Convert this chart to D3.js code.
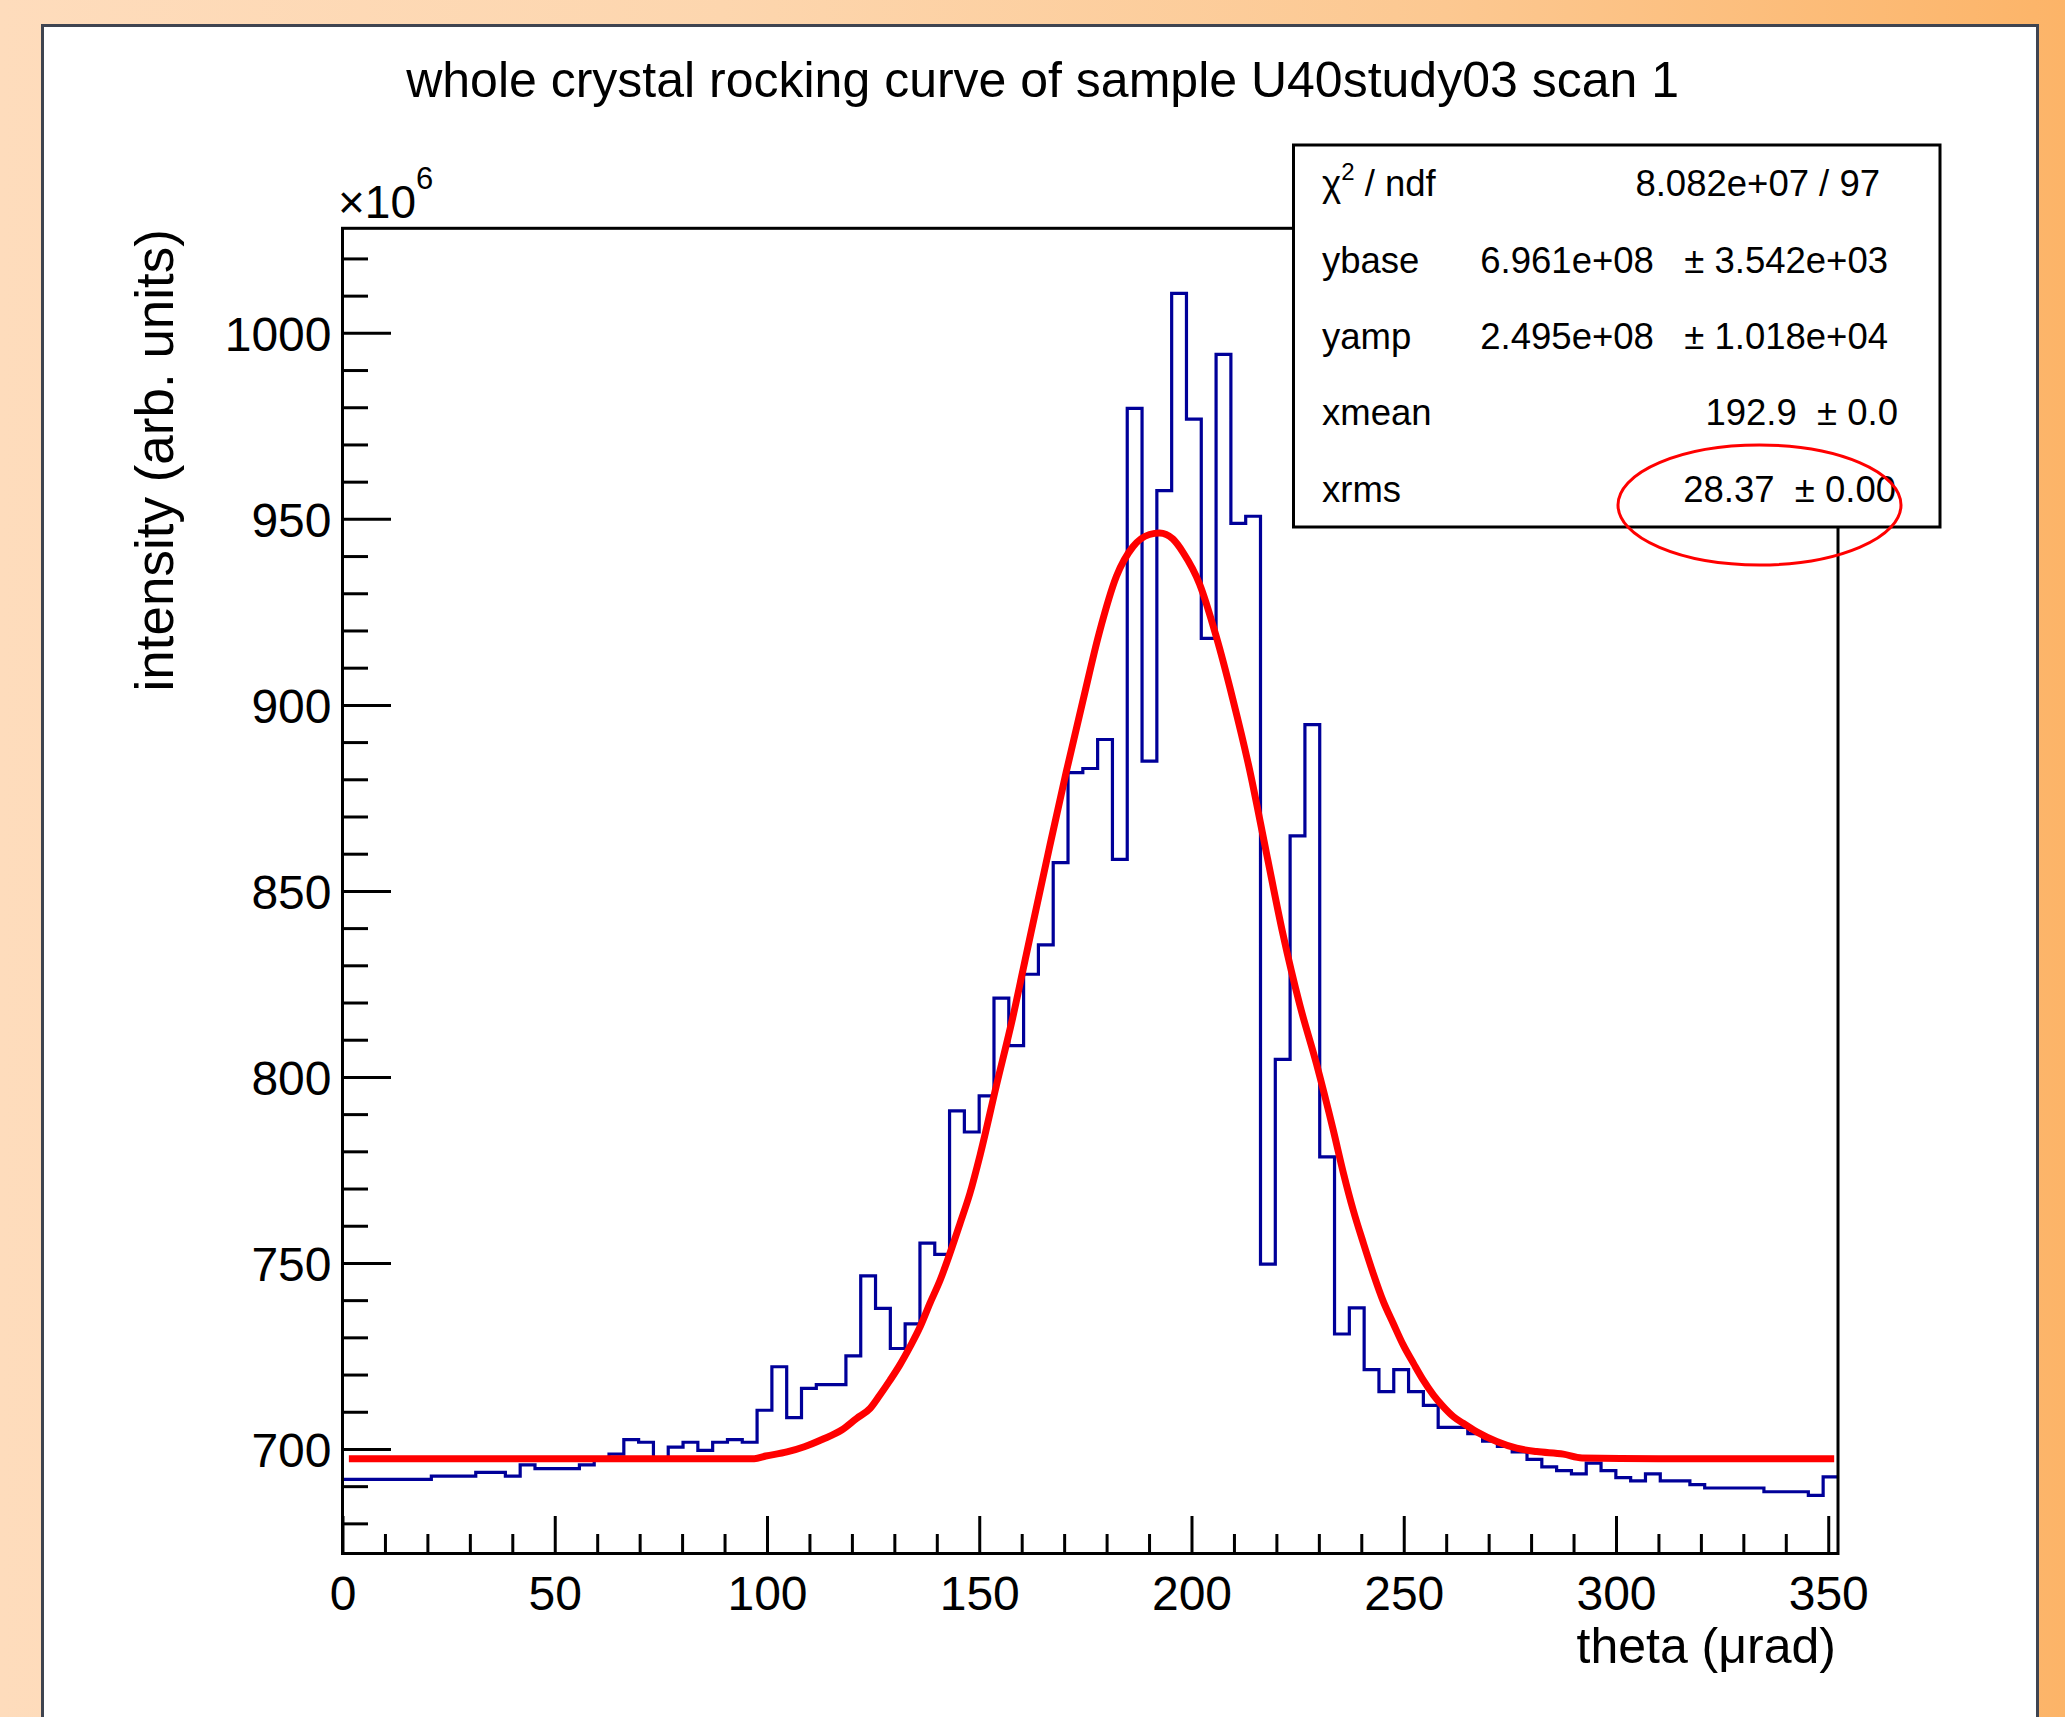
<!DOCTYPE html>
<html><head><meta charset="utf-8">
<script src="https://cdn.jsdelivr.net/npm/d3@7"></script>
<style>
html,body{margin:0;padding:0;background:#fff;}
svg{display:block;}
text{font-family:"Liberation Sans", Arial, Helvetica, sans-serif; fill:#000;}
</style>
</head><body>
<div id="chart"></div>
<script>
// ---------------- data ----------------
const titleText = "whole crystal rocking curve of sample U40study03 scan 1";
const xAxisTitle = "theta (μrad)";
const yAxisTitle = "intensity (arb. units)";
const yExponent = "6";
const xTickValues = [0, 50, 100, 150, 200, 250, 300, 350];
const yTickValues = [700, 750, 800, 850, 900, 950, 1000];
const xDomain = [0, 352.3];
const yDomain = [671.9, 1028.1];

// histogram: 101 bins, values in units of 1e6
const histLow = 0;
const histBinWidth = 3.488;
const histCounts = [
  691.8, 691.8, 691.8, 691.8, 691.8, 691.8, 692.7, 692.7, 692.7, 693.7,
  693.7, 692.7, 695.7, 694.7, 694.7, 694.7, 695.7, 697.0, 698.6, 702.5,
  701.8, 697.3, 700.5, 701.8, 699.6, 701.8, 702.5, 701.8, 710.4, 722.1,
  708.4, 716.3, 717.3, 717.3, 725.0, 746.5, 737.8, 727.0, 733.6, 755.3,
  752.3, 790.9, 785.2, 794.9, 821.2, 808.4, 827.6, 835.5, 857.6, 881.8,
  882.9, 890.7, 858.5, 979.7, 884.9, 957.6, 1010.6, 976.8, 917.9, 994.2,
  948.8, 950.7, 749.7, 804.7, 864.8, 894.7, 778.5, 730.9, 737.9, 721.3,
  715.4, 721.3, 715.4, 711.7, 705.8, 705.8, 704.1, 702.1, 700.7, 699.2,
  697.2, 695.2, 694.2, 693.3, 696.2, 694.2, 692.3, 691.4, 693.3, 691.4,
  691.4, 690.4, 689.5, 689.5, 689.5, 689.5, 688.5, 688.5, 688.5, 687.5,
  692.5
];

// fitted curve (x in μrad, y in 1e6)
const fitX = [1.5, 20, 40, 60, 80, 97, 99.7, 104.7, 108.8, 113.1, 117.6, 121.1, 124.3, 126.6,
  129.0, 131.3, 133.7, 136.1, 138.4, 140.8, 143.1, 145.5, 147.8, 150.2, 154.0, 157.9, 161.1,
  166.6, 170.5, 174.4, 178.3, 182.3, 186.2, 190.1, 192.5, 195.6, 198.0, 201.9, 205.8, 209.7,
  213.7, 217.6, 221.5, 225.5, 229.4, 233.4, 235.8, 238.1, 240.5, 242.8, 245.2, 247.5, 249.9,
  252.3, 254.6, 257.0, 259.3, 261.7, 264.0, 267.2, 271.9, 276.6, 281.3, 287.6, 292.0, 310,
  330, 351.4];
const fitY = [697.4, 697.4, 697.4, 697.4, 697.4, 697.4, 698.1, 699.2, 700.6, 702.6, 705.1, 708.2, 710.9, 714.5,
  718.5, 722.6, 727.5, 732.9, 739.2, 745.4, 752.6, 760.7, 768.7, 779.0, 797.5, 816.0, 833.0,
  862.0, 882.0, 901.0, 919.5, 934.5, 942.5, 945.8, 946.2, 944.6, 941.0, 932.5, 918.5, 901.7,
  882.5, 860.5, 838.6, 819.4, 803.7, 785.7, 774.1, 764.2, 755.3, 747.2, 739.6, 733.8, 727.9,
  723.0, 718.5, 714.5, 711.4, 708.7, 706.9, 704.6, 702.0, 700.2, 699.3, 698.6, 697.6, 697.4,
  697.4, 697.4];

const statNames = ["χ", "ybase", "yamp", "xmean", "xrms"];
const statValues = ["8.082e+07 / 97", "6.961e+08   ± 3.542e+03", "2.495e+08   ± 1.018e+04", "192.9  ± 0.0", "28.37  ± 0.00"];

// ---------------- layout ----------------
const W = 2065, H = 1717;
const plot = { left: 342.5, right: 1838, top: 228.3, bottom: 1553.5 };
const box = { x: 1293.5, y: 145, w: 646.5, h: 382 };
const statValueRight = [1880, 1888, 1888, 1898, 1896];

const svg = d3.select("#chart").append("svg")
  .attr("width", W).attr("height", H).attr("viewBox", `0 0 ${W} ${H}`);

const defs = svg.append("defs");
const grad = defs.append("linearGradient").attr("id", "bg").attr("x1", "0").attr("x2", "1").attr("y1", "0").attr("y2", "0");
[["0", "#fedcbc"], ["0.35", "#fdd6ae"], ["0.7", "#fcc891"], ["1", "#fcb468"]]
  .forEach(([o, c]) => grad.append("stop").attr("offset", o).attr("stop-color", c));
const clip = defs.append("clipPath").attr("id", "plotclip");
clip.append("rect").attr("x", plot.left).attr("y", plot.top)
  .attr("width", plot.right - plot.left).attr("height", plot.bottom - plot.top);

svg.append("rect").attr("width", W).attr("height", H).attr("fill", "url(#bg)");
svg.append("rect").attr("x", 42.5).attr("y", 25.5).attr("width", 1995).attr("height", H)
  .attr("fill", "#fff").attr("stroke", "#3f4450").attr("stroke-width", 3);

const x = d3.scaleLinear().domain(xDomain).range([plot.left, plot.right]);
const y = d3.scaleLinear().domain(yDomain).range([plot.bottom, plot.top]);

// title
svg.append("text").attr("x", 1042.6).attr("y", 96.7).attr("text-anchor", "middle")
  .attr("font-size", 50).text(titleText);

// minor/major ticks
const xMinor = d3.range(0, 351, 10).filter(v => !xTickValues.includes(v));
const yMinor = d3.range(680, 1021, 10).filter(v => !yTickValues.includes(v));

const gx = svg.append("g").attr("transform", `translate(0,${plot.bottom})`);
gx.call(d3.axisBottom(x).tickValues(xMinor).tickSizeInner(-19.5).tickSizeOuter(0).tickFormat(""));
gx.call(g => g.select(".domain").remove());
const gx2 = svg.append("g").attr("transform", `translate(0,${plot.bottom})`);
gx2.call(d3.axisBottom(x).tickValues(xTickValues).tickSizeInner(-37.5).tickSizeOuter(0).tickPadding(0).tickFormat(d3.format("d")));
gx2.call(g => g.select(".domain").remove());
gx2.selectAll("text").attr("y", 56.5).attr("dy", null).attr("font-size", 48)
  .attr("fill", "#000").style("font-family", '"Liberation Sans", Arial, sans-serif');

const gy = svg.append("g").attr("transform", `translate(${plot.left},0)`);
gy.call(d3.axisLeft(y).tickValues(yMinor).tickSizeInner(-25.5).tickSizeOuter(0).tickFormat(""));
gy.call(g => g.select(".domain").remove());
const gy2 = svg.append("g").attr("transform", `translate(${plot.left},0)`);
gy2.call(d3.axisLeft(y).tickValues(yTickValues).tickSizeInner(-48.5).tickSizeOuter(0).tickPadding(11).tickFormat(d3.format("d")));
gy2.call(g => g.select(".domain").remove());
gy2.selectAll("text").attr("dy", "0.36em").attr("font-size", 48)
  .attr("fill", "#000").style("font-family", '"Liberation Sans", Arial, sans-serif');

svg.selectAll(".tick line").attr("stroke", "#000").attr("stroke-width", 3);

// histogram (step outline)
const histPts = histCounts.map((v, i) => [histLow + i * histBinWidth, v]);
histPts.push([histLow + histCounts.length * histBinWidth, histCounts[histCounts.length - 1]]);
const histLine = d3.line().x(d => x(d[0])).y(d => y(d[1])).curve(d3.curveStepAfter);
svg.append("path").attr("d", histLine(histPts)).attr("fill", "none")
  .attr("stroke", "#000099").attr("stroke-width", 3.2).attr("clip-path", "url(#plotclip)");

// fit curve
const fitLine = d3.line().x(d => x(d[0])).y(d => y(d[1])).curve(d3.curveMonotoneX);
svg.append("path").attr("d", fitLine(fitX.map((v, i) => [v, fitY[i]]))).attr("fill", "none")
  .attr("stroke", "#ff0000").attr("stroke-width", 7).attr("clip-path", "url(#plotclip)");

// frame
svg.append("rect").attr("x", plot.left).attr("y", plot.top)
  .attr("width", plot.right - plot.left).attr("height", plot.bottom - plot.top)
  .attr("fill", "none").attr("stroke", "#000").attr("stroke-width", 3);

// axis titles
svg.append("text").attr("x", 1836).attr("y", 1663).attr("text-anchor", "end")
  .attr("font-size", 50).text(xAxisTitle);
svg.append("text").attr("transform", "translate(173,229) rotate(-90)").attr("text-anchor", "end")
  .attr("font-size", 53).text(yAxisTitle);

// exponent
const ex = svg.append("text").attr("x", 338).attr("y", 218).attr("font-size", 46);
ex.append("tspan").text("×10");
ex.append("tspan").attr("font-size", 31).attr("dy", -29).text(yExponent);

// stats box
svg.append("rect").attr("x", box.x).attr("y", box.y).attr("width", box.w).attr("height", box.h)
  .attr("fill", "#fff").attr("stroke", "#000").attr("stroke-width", 3);
const rowH = box.h / statNames.length;
statNames.forEach((name, i) => {
  const base = box.y + (i + 0.5) * rowH + 13;
  const t = svg.append("text").attr("x", 1322).attr("y", base).attr("font-size", 36.5)
    .style("white-space", "pre");
  if (i === 0) {
    t.append("tspan").text(name);
    t.append("tspan").attr("font-size", 24).attr("dy", -16).text("2");
    t.append("tspan").attr("dy", 16).text(" / ndf");
  } else {
    t.text(name);
  }
  svg.append("text").attr("x", statValueRight[i]).attr("y", base).attr("text-anchor", "end")
    .attr("font-size", 36.5).style("white-space", "pre").text(statValues[i]);
});

// annotation ellipse
svg.append("ellipse").attr("cx", 1759.5).attr("cy", 505).attr("rx", 141.5).attr("ry", 60)
  .attr("fill", "none").attr("stroke", "#ff0000").attr("stroke-width", 3);
</script>
</body></html>
